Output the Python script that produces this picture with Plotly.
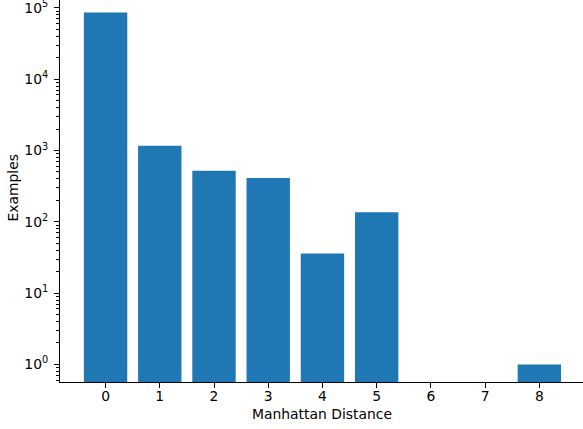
import plotly.graph_objects as go

# Data
distances = [0, 1, 2, 3, 4, 5, 6, 7, 8]
examples = [85900, 1164, 519, 410, 36, 136, 0, 0, 1]
x_tick_labels = ["0", "1", "2", "3", "4", "5", "6", "7", "8"]
y_tick_vals = [1, 10, 100, 1000, 10000, 100000]
y_tick_text = ["10<sup>0</sup>", "10<sup>1</sup>", "10<sup>2</sup>",
               "10<sup>3</sup>", "10<sup>4</sup>", "10<sup>5</sup>"]
minor_vals = [m * 10 ** k for k in range(-1, 6) for m in range(2, 10)]

FONT = "DejaVu Sans"
FS = 13.9

fig = go.Figure(go.Bar(
    x=distances,
    y=[v if v > 0 else None for v in examples],
    width=0.8,
    marker=dict(color="#1f77b4", line=dict(width=0)),
))

fig.update_layout(
    width=583, height=429,
    margin=dict(l=60, r=0, t=0, b=47, autoexpand=False),
    plot_bgcolor="white", paper_bgcolor="white",
    font=dict(family=FONT, size=FS, color="black"),
    showlegend=False,
    xaxis=dict(
        range=[-0.84, 8.805],
        tickmode="array", tickvals=distances, ticktext=x_tick_labels,
        showgrid=False, zeroline=False, automargin=False,
        showline=True, linecolor="black", linewidth=1,
        ticks="outside", ticklen=5, tickcolor="black", tickwidth=1,
        ticklabelstandoff=-4, ticklabeloverflow="allow",
    ),
    yaxis=dict(
        type="log",
        range=[-0.2467, 5.11],
        tickmode="array", tickvals=y_tick_vals, ticktext=y_tick_text,
        showgrid=False, zeroline=False, automargin=False,
        showline=True, linecolor="black", linewidth=1,
        ticks="outside", ticklen=5, tickcolor="black", tickwidth=1,
        ticklabelstandoff=3, ticklabeloverflow="allow",
        minor=dict(tickmode="array", tickvals=minor_vals, ticks="outside",
                   ticklen=3, tickcolor="black", tickwidth=0.8, showgrid=False),
    ),
    annotations=[
        dict(text="Manhattan Distance", xref="paper", yref="paper",
             x=(322 - 60) / 523, y=(382 - 414) / 382, xanchor="center", yanchor="middle",
             showarrow=False, font=dict(family=FONT, size=FS)),
        dict(text="Examples", xref="paper", yref="paper",
             x=(12.5 - 60) / 523, y=(382 - 188) / 382, xanchor="center", yanchor="middle",
             textangle=-90, showarrow=False, font=dict(family=FONT, size=FS)),
    ],
)

fig.write_html("out.html", config={"displayModeBar": False},
               post_script="document.body.style.margin='0';")
